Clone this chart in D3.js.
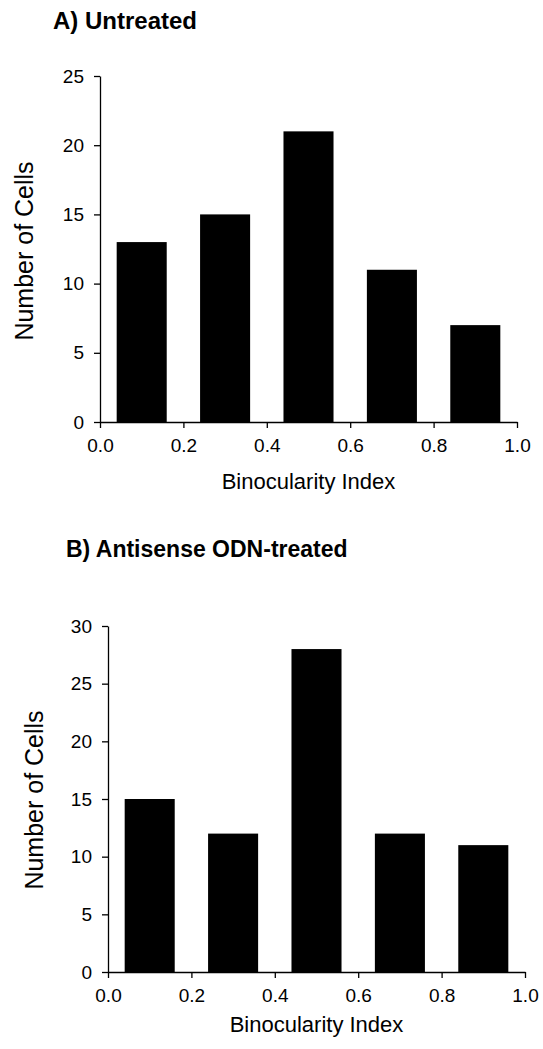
<!DOCTYPE html>
<html>
<head>
<meta charset="utf-8">
<script src="https://cdn.jsdelivr.net/npm/d3@7"></script>
<style>
  html, body { margin: 0; padding: 0; background: #fff; }
  svg { display: block; }
  text { font-family: "Liberation Sans", Arial, Helvetica, sans-serif; fill: #000; }
</style>
</head>
<body>
<svg id="chart" width="543" height="1049"></svg>
<script>
// ---- data ----
const binCenters = [0.1, 0.3, 0.5, 0.7, 0.9];
const untreatedCounts = [13, 15, 21, 11, 7];
const antisenseCounts = [15, 12, 28, 12, 11];
const xTicks = [0.0, 0.2, 0.4, 0.6, 0.8, 1.0];
const yTicksA = [0, 5, 10, 15, 20, 25];
const yTicksB = [0, 5, 10, 15, 20, 25, 30];
const panelTitles = ["A) Untreated", "B) Antisense ODN-treated"];
const xAxisTitle = "Binocularity Index";
const yAxisTitle = "Number of Cells";

// ---- layout ----
const barWidth = 0.12;
const svg = d3.select("#chart");

const panels = [
  { title: panelTitles[0], titleSize: 24, counts: untreatedCounts, yTicks: yTicksA, yMax: 25,
    x0: 100, x1: 517, yTop: 76, yBot: 422, titleX: 53, titleY: 29,
    yTitleX: 33, yTitleY: 251, xTitleY: 489 },
  { title: panelTitles[1], titleSize: 23, counts: antisenseCounts, yTicks: yTicksB, yMax: 30,
    x0: 108, x1: 525, yTop: 626, yBot: 972, titleX: 66, titleY: 557,
    yTitleX: 43, yTitleY: 800, xTitleY: 1032 }
];

panels.forEach(p => {
  const x = d3.scaleLinear().domain([0, 1]).range([p.x0, p.x1]);
  const y = d3.scaleLinear().domain([0, p.yMax]).range([p.yBot, p.yTop]);

  // title
  svg.append("text")
    .attr("x", p.titleX).attr("y", p.titleY)
    .attr("font-size", p.titleSize).attr("font-weight", "bold")
    .text(p.title);

  // bars
  svg.append("g").selectAll("rect")
    .data(binCenters.map((c, i) => ({ c, v: p.counts[i] })))
    .join("rect")
    .attr("x", d => x(d.c - barWidth / 2))
    .attr("width", d => x(d.c + barWidth / 2) - x(d.c - barWidth / 2))
    .attr("y", d => y(d.v))
    .attr("height", d => y(0) - y(d.v))
    .attr("fill", "#000");

  // axes
  const xAxis = d3.axisBottom(x).tickValues(xTicks).tickFormat(d3.format(".1f"))
    .tickSizeInner(6).tickSizeOuter(0).tickPadding(11);
  const yAxis = d3.axisLeft(y).tickValues(p.yTicks).tickFormat(d3.format("d"))
    .tickSizeInner(6).tickSizeOuter(0).tickPadding(10);

  const gx = svg.append("g").attr("transform", `translate(0,${p.yBot})`).call(xAxis);
  const gy = svg.append("g").attr("transform", `translate(${p.x0},0)`).call(yAxis);
  [gx, gy].forEach(g => {
    g.select(".domain").attr("stroke", "#000").attr("stroke-width", 1.3);
    g.selectAll(".tick line").attr("stroke", "#000").attr("stroke-width", 1.3);
    g.selectAll(".tick text").attr("font-size", 19)
      .attr("font-family", "'Liberation Sans', Arial, sans-serif").attr("fill", "#000");
  });

  // axis titles
  svg.append("text")
    .attr("x", (p.x0 + p.x1) / 2).attr("y", p.xTitleY)
    .attr("text-anchor", "middle").attr("font-size", 22)
    .text(xAxisTitle);
  svg.append("text")
    .attr("transform", `translate(${p.yTitleX},${p.yTitleY}) rotate(-90)`)
    .attr("text-anchor", "middle").attr("font-size", 25)
    .text(yAxisTitle);
});
</script>
</body>
</html>
